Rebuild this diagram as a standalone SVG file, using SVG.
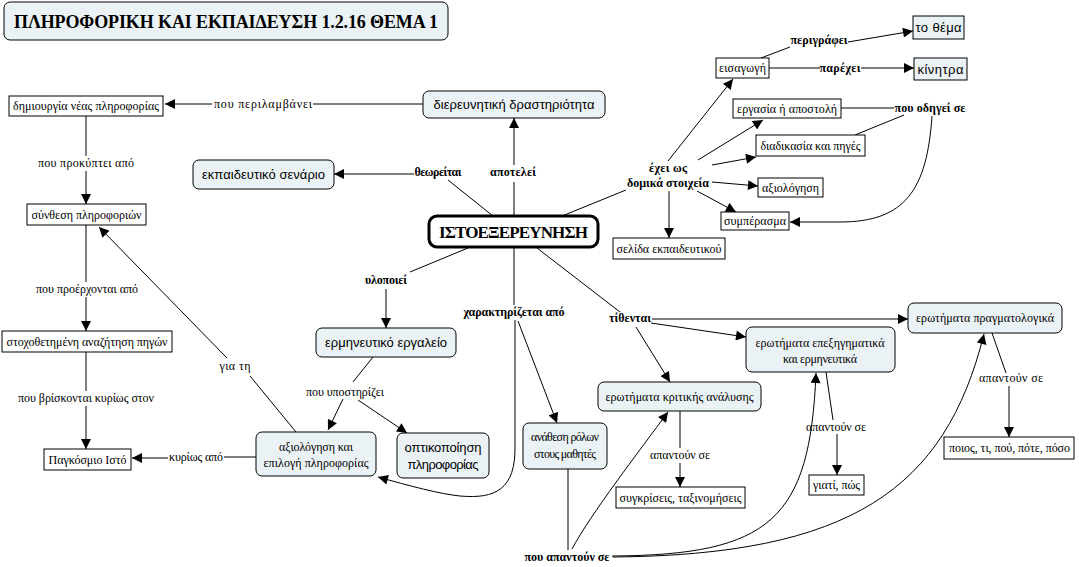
<svg xmlns="http://www.w3.org/2000/svg" width="1079" height="567" viewBox="0 0 1079 567">
<defs>
<marker id="ah" viewBox="0 0 10 10" refX="10" refY="5" markerWidth="11" markerHeight="10" markerUnits="userSpaceOnUse" orient="auto"><path d="M0,0 L10,5 L0,10 z" fill="#000"/></marker>
<style>
.bg{fill:#fff}
.rn{fill:#ebf2f5;stroke:#000;stroke-width:1}
.sn{fill:#fff;stroke:#000;stroke-width:1}
.t{font-family:"Liberation Serif","DejaVu Serif",serif;font-size:12px;fill:#000;text-anchor:middle}
.s{font-family:"Liberation Sans","DejaVu Sans",sans-serif;font-size:13px;fill:#000;text-anchor:middle}
.l{font-family:"Liberation Serif","DejaVu Serif",serif;font-size:12px;fill:#000;text-anchor:middle}
.b{font-family:"Liberation Serif","DejaVu Serif",serif;font-size:12px;font-weight:bold;fill:#000;text-anchor:middle}
#connectors path{fill:none;stroke:#000;stroke-width:1}
.a{marker-end:url(#ah)}
</style>
</defs>
<rect class="bg" x="0" y="0" width="1079" height="567"/>
<g id="connectors">
<path d="M424,104 L313,104"/>
<path class="a" d="M212,104 L165,104"/>
<path d="M86,116 L86,156"/>
<path class="a" d="M86,171 L86,204"/>
<path d="M86,225 L86,282"/>
<path class="a" d="M86,297 L86,331"/>
<path d="M86,352 L86,391"/>
<path class="a" d="M86,406 L86,449"/>
<path d="M256,457 L224,457"/>
<path class="a" d="M168,458 L132,458"/>
<path d="M296,432 L250,376"/>
<path class="a" d="M227,358 L99,227"/>
<path d="M373,357 L353,382"/>
<path class="a" d="M343,399 L328,430"/>
<path class="a" d="M358,400 L407,433"/>
<path d="M514,216 L514,182"/>
<path class="a" d="M514,165 L514,118"/>
<path d="M493,216 L448,180"/>
<path class="a" d="M414,174 L334,174"/>
<path d="M562,216 L626,190"/>
<path d="M468,248 L410,272"/>
<path class="a" d="M386,289 L386,328"/>
<path d="M514,248 L514,305"/>
<path class="a" d="M515,320 L515,445 C516,490 495,499 460,496 C440,494 410,486 378,477"/>
<path class="a" d="M518,321 L557,423"/>
<path d="M537,248 L620,312"/>
<path class="a" d="M652,319 L908,319"/>
<path class="a" d="M651,323 L746,337"/>
<path class="a" d="M636,327 L670,382"/>
<path class="a" d="M668,161 L733,79"/>
<path class="a" d="M698,160 L763,120"/>
<path class="a" d="M712,165 L756,157"/>
<path class="a" d="M712,182 L758,186"/>
<path class="a" d="M697,191 L736,212"/>
<path class="a" d="M669,191 L669,238"/>
<path d="M769,68 L820,68"/>
<path class="a" d="M861,68 L914,68"/>
<path d="M761,58 L790,47"/>
<path class="a" d="M848,42 L913,31"/>
<path d="M841,108 L894,108"/>
<path d="M904,115 L855,135"/>
<path class="a" d="M932,116 C927,190 905,222 840,222 L790,222"/>
<path d="M992,333 L1006,373"/>
<path class="a" d="M1009,386 L1009,437"/>
<path d="M826,372 L833,420"/>
<path class="a" d="M837,434 L837,475"/>
<path d="M680,411 L680,448"/>
<path class="a" d="M680,463 L680,487"/>
<path d="M568,469 L568,550"/>
<path class="a" d="M572,549 C590,515 640,450 668,412"/>
<path class="a" d="M612,556 C770,555 810,520 816,373"/>
<path class="a" d="M613,557 C850,555 945,490 984,334"/>
</g>
<g id="labels">
<text class="l" x="263" y="108" textLength="98">που περιλαμβάνει</text>
<text class="l" x="86" y="167" textLength="96">που προκύπτει από</text>
<text class="l" x="87" y="293" textLength="102">που προέρχονται από</text>
<text class="l" x="86" y="402" textLength="136">που βρίσκονται κυρίως στον</text>
<text class="l" x="235" y="370" textLength="31">για τη</text>
<text class="l" x="345" y="396" textLength="78">που υποστηρίζει</text>
<text class="l" x="196" y="461" textLength="54">κυρίως από</text>
<text class="b" x="438" y="176" textLength="47">θεωρείται</text>
<text class="b" x="513" y="176" textLength="46">αποτελεί</text>
<text class="b" x="668" y="172" textLength="38">έχει ως</text>
<text class="b" x="668" y="187" textLength="82">δομικά στοιχεία</text>
<text class="b" x="386" y="284" textLength="42">υλοποιεί</text>
<text class="b" x="514" y="316" textLength="101">χαρακτηρίζεται από</text>
<text class="b" x="630" y="322" textLength="42">τίθενται</text>
<text class="b" x="819" y="44" textLength="57">περιγράφει</text>
<text class="b" x="840" y="72" textLength="41">παρέχει</text>
<text class="b" x="930" y="112" textLength="71">που οδηγεί σε</text>
<text class="l" x="1011" y="382" textLength="64">απαντούν σε</text>
<text class="l" x="836" y="431" textLength="60">απαντούν σε</text>
<text class="l" x="680" y="459" textLength="60">απαντούν σε</text>
<text class="b" x="567" y="561" textLength="85">που απαντούν σε</text>
</g>
<g id="title"><rect class="rn" x="4" y="2" width="444" height="38" rx="6"/><text x="226" y="28" font-family="'Liberation Serif', 'DejaVu Serif', serif" font-size="18" font-weight="bold" text-anchor="middle" textLength="424">ΠΛΗΡΟΦΟΡΙΚΗ ΚΑΙ ΕΚΠΑΙΔΕΥΣΗ 1.2.16 ΘΕΜΑ 1</text></g>
<g id="n-dimiourgia"><rect class="sn" x="9" y="96" width="154" height="20"/><text class="t" x="86" y="110" textLength="146">δημιουργία νέας πληροφορίας</text></g>
<g id="n-dierevnitiki"><rect class="rn" x="423" y="91" width="182" height="27" rx="6"/><text class="s" x="514" y="109" textLength="161">διερευνητική δραστηριότητα</text></g>
<g id="n-senario"><rect class="rn" x="193" y="160" width="141" height="29" rx="6"/><text class="s" x="263.5" y="179" textLength="123">εκπαιδευτικό σενάριο</text></g>
<g id="n-synthesi"><rect class="sn" x="27" y="204" width="119" height="21"/><text class="t" x="86.5" y="219" textLength="110">σύνθεση πληροφοριών</text></g>
<g id="n-isto"><rect x="429" y="216" width="169" height="31" rx="8" fill="#fff" stroke="#000" stroke-width="3"/><text x="513.5" y="238" font-family="'Liberation Serif', 'DejaVu Serif', serif" font-size="17" font-weight="bold" text-anchor="middle" textLength="149">ΙΣΤΟΕΞΕΡΕΥΝΗΣΗ</text></g>
<g id="n-stoxo"><rect class="sn" x="2" y="331" width="170" height="21"/><text class="t" x="87" y="346" textLength="161">στοχοθετημένη αναζήτηση πηγών</text></g>
<g id="n-ergaleio"><rect class="rn" x="316" y="328" width="140" height="29" rx="6"/><text class="s" x="386" y="347" textLength="122">ερμηνευτικό εργαλείο</text></g>
<g id="n-istos"><rect class="sn" x="44" y="449" width="87" height="21"/><text class="t" x="87.5" y="464" textLength="78">Παγκόσμιο Ιστό</text></g>
<g id="n-axiologisi-epilogi"><rect class="rn" x="256" y="432" width="120" height="44" rx="6"/><text class="t" x="316" y="451" textLength="74">αξιολόγηση και</text><text class="t" x="316" y="467" textLength="105">επιλογή πληροφορίας</text></g>
<g id="n-optikopoiisi"><rect class="rn" x="397" y="433" width="92" height="45" rx="6"/><text class="s" x="443" y="452" textLength="77">οπτικοποίηση</text><text class="s" x="443" y="469" textLength="71">πληροφορίας</text></g>
<g id="n-anathesi"><rect class="rn" x="523" y="423" width="84" height="46" rx="6"/><text class="t" x="565" y="441" textLength="68">ανάθεση ρόλων</text><text class="t" x="565" y="458" textLength="62">στους μαθητές</text></g>
<g id="n-kritikis"><rect class="rn" x="598" y="382" width="163" height="29" rx="6"/><text class="t" x="679.5" y="401" textLength="148">ερωτήματα κριτικής ανάλυσης</text></g>
<g id="n-epexigimatika"><rect class="rn" x="746" y="327" width="149" height="45" rx="6"/><text class="t" x="820" y="347" textLength="129">ερωτήματα επεξηγηματικά</text><text class="t" x="820" y="363" textLength="74">και ερμηνευτικά</text></g>
<g id="n-pragmatologika"><rect class="rn" x="908" y="303" width="154" height="30" rx="6"/><text class="t" x="985" y="322" textLength="138">ερωτήματα πραγματολογικά</text></g>
<g id="n-poios"><rect class="sn" x="944" y="437" width="130" height="22"/><text class="t" x="1009.5" y="452" textLength="121">ποιος, τι, πού, πότε, πόσο</text></g>
<g id="n-giati"><rect class="sn" x="809" y="475" width="55" height="20"/><text class="t" x="836.5" y="489" textLength="47">γιατί, πώς</text></g>
<g id="n-sygkriseis"><rect class="sn" x="616" y="487" width="129" height="21"/><text class="t" x="680.5" y="502" textLength="122">συγκρίσεις, ταξινομήσεις</text></g>
<g id="n-eisagogi"><rect class="sn" x="716" y="58" width="53" height="20"/><text class="t" x="742.5" y="72" textLength="47">εισαγωγή</text></g>
<g id="n-thema"><rect class="rn" x="913" y="16" width="51" height="23"/><text class="s" x="938.5" y="32" textLength="46">το θέμα</text></g>
<g id="n-kinitra"><rect class="rn" x="914" y="58" width="53" height="22"/><text class="s" x="940.5" y="74" textLength="46">κίνητρα</text></g>
<g id="n-ergasia"><rect class="sn" x="733" y="99" width="108" height="19"/><text class="t" x="787" y="113" textLength="100">εργασία ή αποστολή</text></g>
<g id="n-diadikasia"><rect class="sn" x="756" y="135" width="109" height="21"/><text class="t" x="810.5" y="150" textLength="100">διαδικασία και πηγές</text></g>
<g id="n-axiologisi"><rect class="sn" x="758" y="178" width="65" height="19"/><text class="t" x="790.5" y="192" textLength="57">αξιολόγηση</text></g>
<g id="n-symperasma"><rect class="sn" x="721" y="212" width="68" height="18"/><text class="t" x="755" y="225" textLength="62">συμπέρασμα</text></g>
<g id="n-selida"><rect class="sn" x="613" y="238" width="112" height="21"/><text class="t" x="669" y="253" textLength="105">σελίδα εκπαιδευτικού</text></g>
</svg>
